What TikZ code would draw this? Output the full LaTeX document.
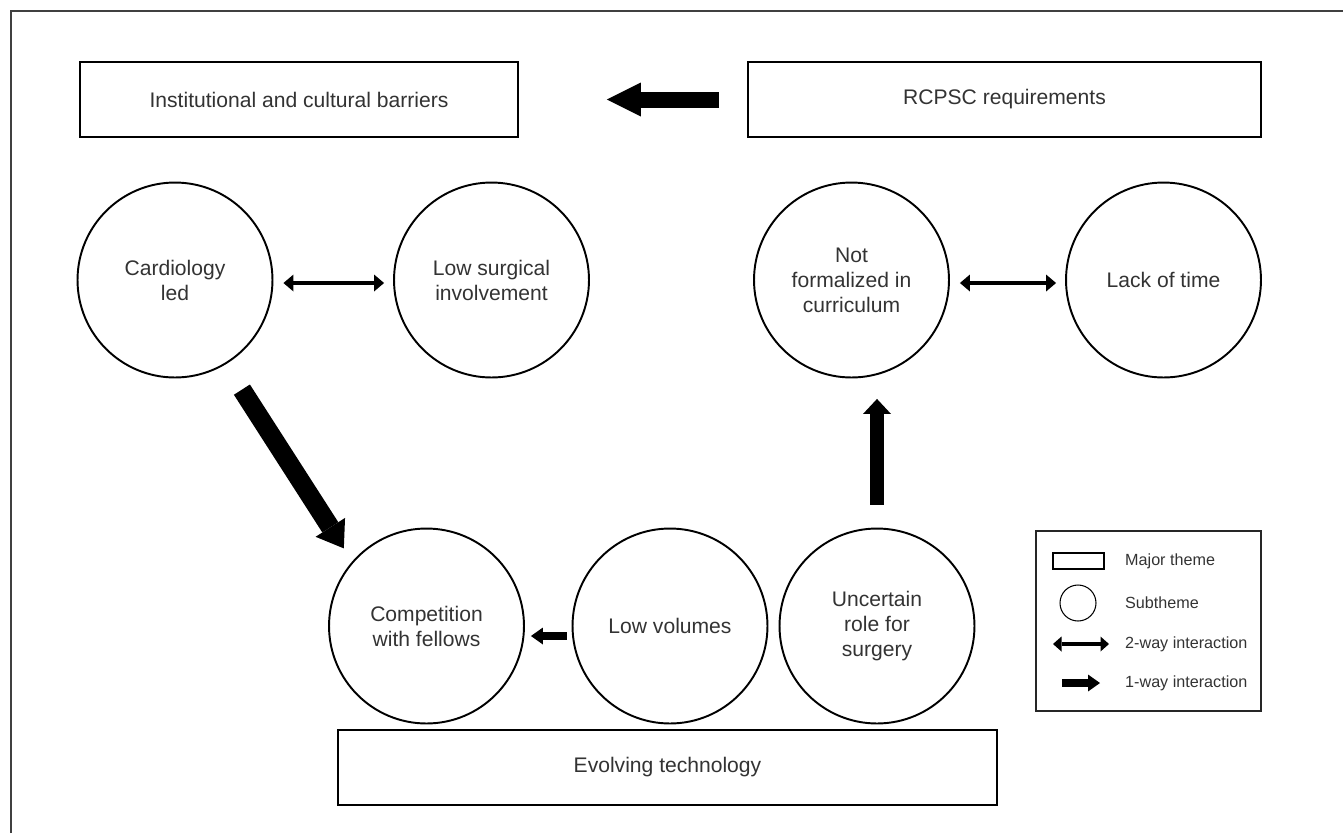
\documentclass[tikz,border=0pt]{standalone}
\usepackage{fontspec}
\setmainfont{Liberation Sans}
\usetikzlibrary{arrows.meta,positioning}

\begin{document}
\begin{tikzpicture}[
  x=0.02cm, y=-0.02cm,
  font=\fontsize{12}{14.2}\selectfont,
  theme/.style={draw, line width=1.1pt, minimum height=1.5cm, text=black!80, fill=white},
  sub/.style={draw, circle, line width=1.1pt, minimum size=3.9cm, inner sep=0pt, align=center, text=black!80},
  twoway/.style={line width=2.3pt, {Triangle[length=0.2cm,width=0.34cm,line width=0pt]}-{Triangle[length=0.2cm,width=0.34cm,line width=0pt]}},
  oneway/.style={line width=0.16cm, -{Triangle[length=0.24cm,width=0.34cm,line width=0pt]}},
  lab/.style={font=\fontsize{9.2}{11}\selectfont, text=black!80, anchor=west}
]
  \useasboundingbox (0,0) rectangle (1343,833);
  \draw[line width=1.1pt, black!75] (11,833) -- (11,11) -- (1343,11);

  % major themes
  \node[theme, minimum width=8.76cm] (inst) at (299,99.5) {Institutional and cultural barriers};
  \node[theme, minimum width=10.26cm] (rcpsc) at (1004.5,99.5) {RCPSC requirements};

  % subthemes
  \foreach \n/\x/\y/\t in {card/175/280/{Cardiology\\led},
                          lowsurg/491.5/280/{Low surgical\\involvement},
                          notform/851.5/280/{Not\\formalized in\\curriculum},
                          lack/1163.5/280/{Lack of time},
                          comp/426.5/626/{Competition\\with fellows},
                          lowvol/670/626/{Low volumes},
                          uncert/877/626/{Uncertain\\role for\\surgery}} {
    \node[sub] (\n) at (\x,\y) {\t};
  }
  \node[theme, minimum width=13.18cm] (evol) at (667.5,767.5) {Evolving technology};

  % interactions
  \draw[line width=0.32cm, -{Triangle[length=0.68cm,width=0.68cm,line width=0pt]},
        shorten <=0.56cm, shorten >=1.76cm] (rcpsc.west) -- (inst.east);
  \draw[twoway, shorten <=0.2cm, shorten >=0.18cm] ([yshift=-0.06cm]card.east) -- ([yshift=-0.06cm]lowsurg.west);
  \draw[twoway, shorten <=0.2cm, shorten >=0.18cm] ([yshift=-0.06cm]notform.east) -- ([yshift=-0.06cm]lack.west);
  \draw[line width=0.38cm, -{Triangle[length=0.5cm,width=0.7cm,line width=0pt]},
        shorten <=0.6cm, shorten >=0.31cm] (card.-59.4) -- (comp.139);
  \draw[oneway, shorten <=0.1cm, shorten >=0.12cm] ([yshift=-0.2cm]lowvol.west) -- ([yshift=-0.2cm]comp.east);
  \draw[line width=0.28cm, -{Triangle[length=0.3cm,width=0.56cm,line width=0pt]},
        shorten <=0.46cm, shorten >=0.41cm] (uncert.north) -- (uncert.north |- notform.south);

  % legend
  \node[draw, line width=0.8pt, black!85, minimum width=4.5cm, minimum height=3.6cm] (legend) at (1148.5,621) {};
  \node[draw, line width=0.6pt, minimum width=1.02cm, minimum height=0.32cm, inner sep=0pt] (lrect) at (1078.5,561) {};
  \node[draw, circle, line width=0.6pt, minimum size=0.72cm, inner sep=0pt] (lcirc) at (1078,603) {};
  \coordinate (l2a) at (1053,644);
  \coordinate (l2b) at (1109,644);
  \coordinate (l1a) at (1062,683);
  \coordinate (l1b) at (1100,683);
  \draw[line width=2pt, {Triangle[length=0.17cm,width=0.3cm,line width=0pt]}-{Triangle[length=0.17cm,width=0.3cm,line width=0pt]}] (l2a) -- (l2b);
  \draw[oneway] (l1a) -- (l1b);
  \node[lab] (tmaj) at (1119,561) {Major theme};
  \node[lab] (tsub) at (1119,603) {Subtheme};
  \node[lab] (ttwo) at (1119,644) {2-way interaction};
  \node[lab] (tone) at (1119,683) {1-way interaction};
\end{tikzpicture}
\end{document}
